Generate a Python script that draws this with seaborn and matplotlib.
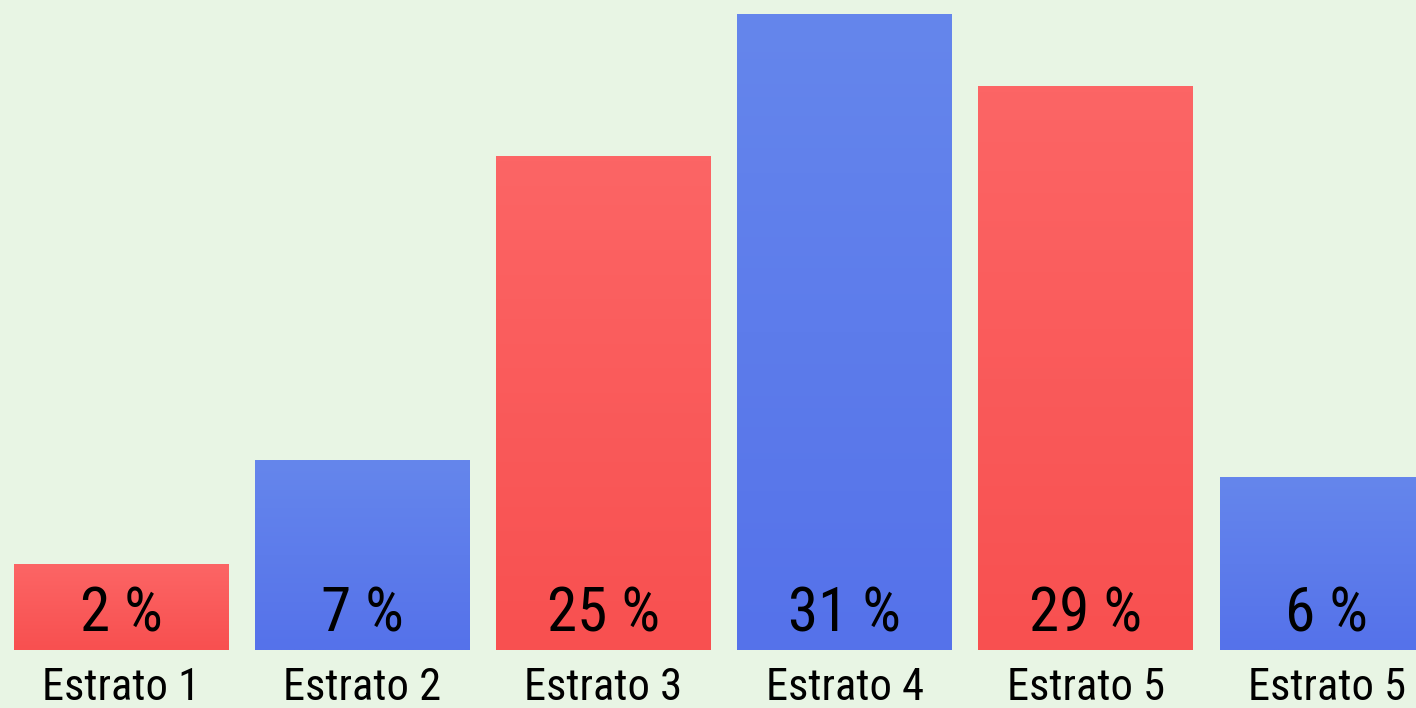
import numpy as np
import pandas as pd
import matplotlib
matplotlib.use("Agg")
import matplotlib.pyplot as plt
import seaborn as sns
from matplotlib import font_manager as fm
from matplotlib.colors import LinearSegmentedColormap

# data
categories = ["Estrato 1", "Estrato 2", "Estrato 3", "Estrato 4", "Estrato 5", "Estrato 5 "]
bar_heights = [8.6, 19.0, 49.4, 63.6, 56.4, 17.3]   # drawn height of each bar
pct_labels = ["2 %", "7 %", "25 %", "31 %", "29 %", "6 %"]
groups = ["red", "blue", "red", "blue", "red", "blue"]

BG = "#E8F5E4"
grad = {
    "red": ("#FC6565", "#F85050"),
    "blue": ("#6586EC", "#5572EA"),
}


def pick_font(cands):
    # narrowest family that is actually installed
    for c in cands:
        try:
            fm.findfont(fm.FontProperties(family=c), fallback_to_default=False)
            return c
        except ValueError:
            pass
    return "DejaVu Sans"


font = pick_font(["Roboto Condensed", "Liberation Sans Narrow", "Liberation Sans"])

df = pd.DataFrame({"cat": categories, "h": bar_heights, "g": groups})

sns.set_style("white")
plt.rcParams["font.family"] = [font, "DejaVu Sans"]

fig = plt.figure(figsize=(14.16, 7.08), dpi=100, facecolor=BG)
ax = fig.add_axes([0, 58 / 708, 1, 650 / 708])
ax.set_facecolor(BG)

sns.barplot(data=df, x="cat", y="h", hue="g", dodge=False, width=0.89,
            palette={"red": grad["red"][0], "blue": grad["blue"][0]},
            legend=False, ax=ax, order=categories)

ax.set_xlim(-0.503, 5.37)
ax.set_ylim(0, 65)

# replace flat fills with vertical gradients clipped to each bar
for patch in list(ax.patches):
    x0, y0 = patch.get_x(), patch.get_y()
    w, h = patch.get_width(), patch.get_height()
    if h <= 0:
        continue
    idx = int(round(x0 + w / 2))
    top, bottom = grad[groups[idx]]
    cmap = LinearSegmentedColormap.from_list("g", [bottom, top])
    img = ax.imshow(np.linspace(0, 1, 100).reshape(-1, 1), cmap=cmap,
                    extent=[x0, x0 + w, y0, y0 + h], origin="lower",
                    aspect="auto", zorder=patch.get_zorder())
    img.set_clip_path(patch)
    patch.set_facecolor("none")
    patch.set_edgecolor("none")

# percentage labels inside bars
for i, lab in enumerate(pct_labels):
    ax.text(i, 1.8, lab, ha="center", va="baseline", fontsize=44,
            color="black", zorder=5)

ax.set_xlabel("")
ax.set_ylabel("")
ax.set_yticks([])
ax.set_xticks(range(len(categories)))
ax.set_xticklabels([c.strip() for c in categories], fontsize=32, color="black")
ax.tick_params(axis="x", length=0, pad=12)
sns.despine(ax=ax, left=True, bottom=True)

fig.savefig("out.png", dpi=100, facecolor=BG)
